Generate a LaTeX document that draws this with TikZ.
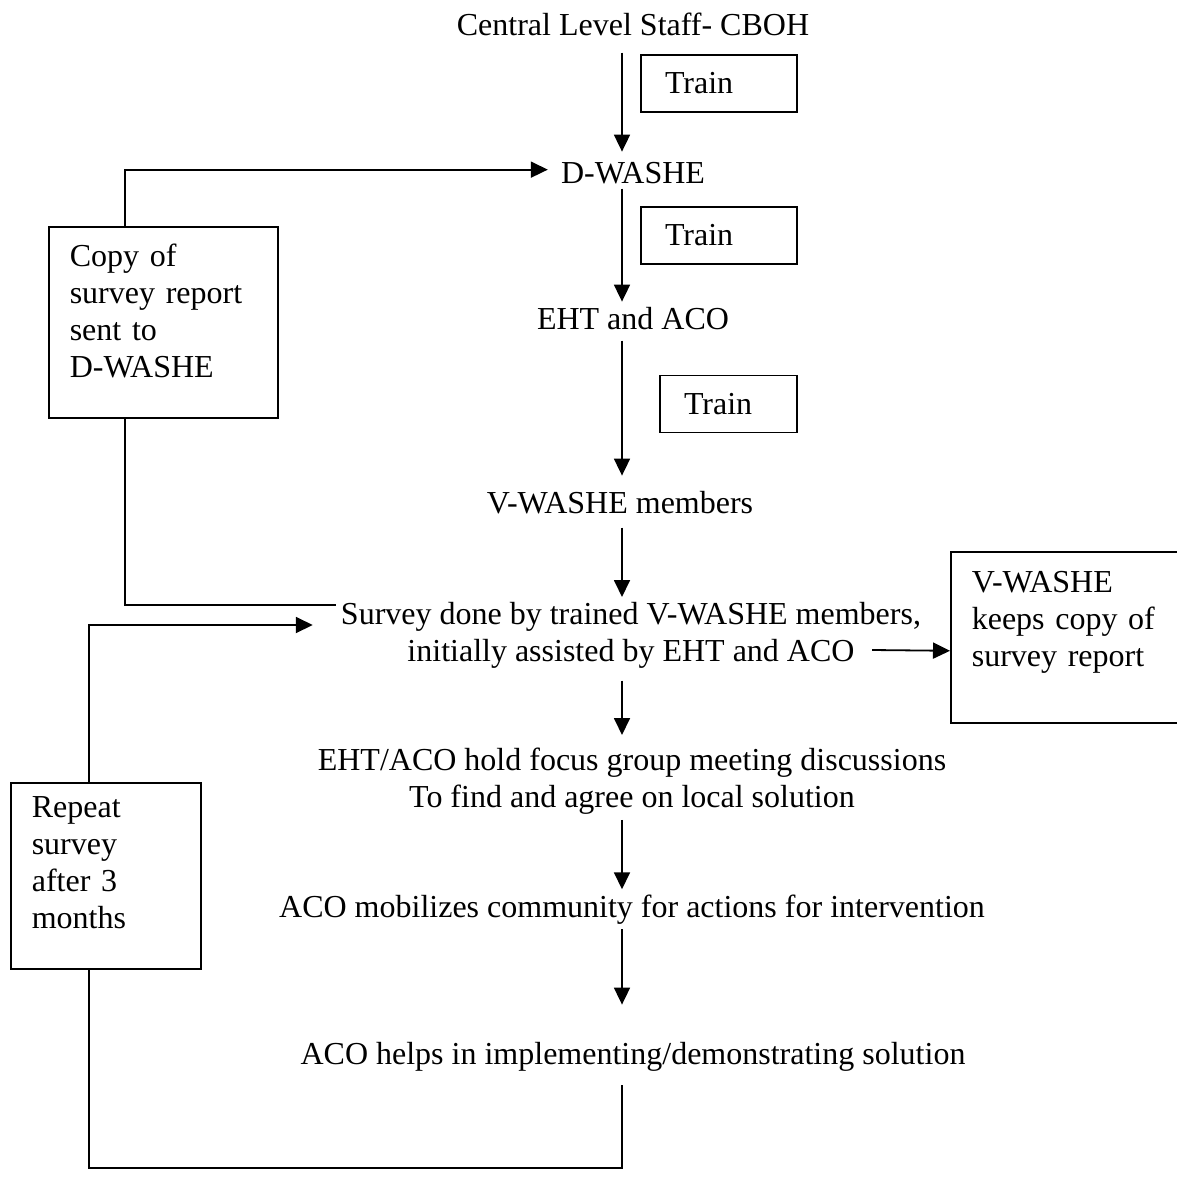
\documentclass[tikz,border=0pt]{standalone}
\usepackage{fontspec}
\setmainfont{Liberation Serif}
\usetikzlibrary{arrows.meta}
\begin{document}
\begin{tikzpicture}[x=1pt, y=-1pt,
  every node/.style = {font=\fontsize{32}{37}\selectfont, inner sep=5pt},
  flow/.style = {anchor=base},
  multi/.style = {align=center, anchor=north},
  trainbox/.style = {draw, line width=1.6pt, align=left, text width=#1,
    inner xsep=24pt, minimum height=57pt},
  sidebox/.style = {draw, line width=1.6pt, anchor=north west, align=left,
    inner xsep=21pt, text height=22pt},
  arr/.style = {line width=1.8pt, -{Triangle[length=17pt,width=16pt]}},
  link/.style = {line width=1.8pt}]
  \useasboundingbox (0,0) rectangle (1177,1200);
  \coordinate (ax) at (622,0);
  \coordinate (loop) at (0,1168);

  \node[flow] (central) at (633,35) {Central Level Staff- CBOH};
  \node[flow] (dwashe) at (633,183) {D-WASHE};
  \node[flow] (eht) at (633,329) {EHT and ACO};
  \node[flow] (vwashe) at (620,513) {V-WASHE members};
  \node[multi] (survey) at (631,597) {Survey done by trained V-WASHE members,\\
    initially assisted by EHT and ACO};
  \node[multi] (focus) at (632,743) {EHT/ACO hold focus group meeting discussions\\
    To find and agree on local solution};
  \node[flow] (mobil) at (632,917) {ACO mobilizes community for actions for intervention};
  \node[flow] (implement) at (633,1064) {ACO helps in implementing/demonstrating solution};

  \node[trainbox=108pt] (train1) at (719,83.5) {Train};
  \node[trainbox=108pt] (train2) at (719,235.5) {Train};
  \node[trainbox=89pt] (train3) at (728.5,404) {Train};

  \node[sidebox, text width=187pt, inner ysep=18pt, text depth=133pt] (copy) at (48,226)
    {Copy of\\ survey report\\ sent to\\ D-WASHE};
  \node[sidebox, text width=148pt, inner ysep=13pt, text depth=138pt] (repeat) at (10,782)
    {Repeat\\ survey\\ after 3\\ months};
  \node[sidebox, text width=218pt, inner ysep=19pt, text depth=111pt] (keeps) at (950,551)
    {V-WASHE\\ keeps copy of\\ survey report};

  \draw[arr, shorten <=12pt, shorten >=5pt] (central.south -| ax) -- (dwashe.north -| ax);
  \draw[arr] (dwashe.south -| ax) -- (eht.north -| ax);
  \draw[arr, shorten <=6pt, shorten >=10pt] (eht.south -| ax) -- (vwashe.north -| ax);
  \draw[arr, shorten <=9pt] (vwashe.south -| ax) -- (survey.north -| ax);
  \draw[arr, shorten <=7pt, shorten >=8pt] (survey.south -| ax) -- (focus.north -| ax);
  \draw[arr] (focus.south -| ax) -- (mobil.north -| ax);
  \draw[arr, shorten >=32pt] (mobil.south -| ax) -- (implement.north -| ax);
  \draw[link, shorten <=9pt] (implement.south -| ax) -- (ax |- loop)
    -| ([xshift=-17pt]repeat.south);
  \draw[arr, shorten >=23pt] ([xshift=-17pt]repeat.north) |- ([yshift=-28pt]survey.north west);
  \draw[link] ([xshift=-38.5pt]copy.south) |- ([yshift=-8pt]survey.north west);
  \draw[arr, shorten >=8pt] ([xshift=-38.5pt]copy.north) |- ([yshift=3pt]dwashe.west);
  \draw[arr] ([shift={(-54pt,-53pt)}]survey.north east) -- ([yshift=-13.5pt]keeps.west);
\end{tikzpicture}
\end{document}
